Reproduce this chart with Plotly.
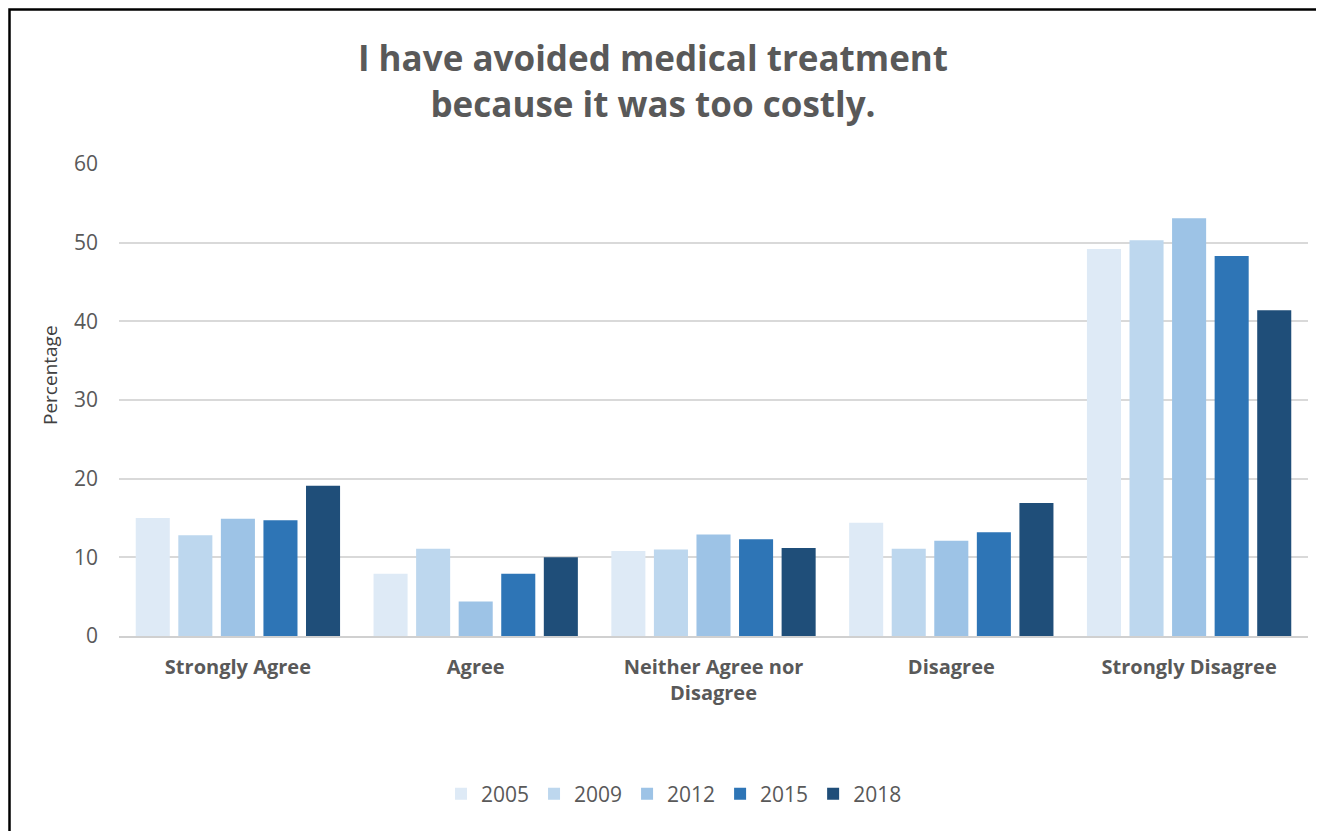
import plotly.graph_objects as go

# Survey answers and yearly percentages
categories = ['Strongly Agree', 'Agree', 'Neither Agree nor<br>Disagree', 'Disagree', 'Strongly Disagree']
years = ['2005', '2009', '2012', '2015', '2018']
pct_2005 = [15.0, 7.9, 10.8, 14.4, 49.2]
pct_2009 = [12.8, 11.1, 11.0, 11.1, 50.3]
pct_2012 = [14.9, 4.4, 12.9, 12.1, 53.1]
pct_2015 = [14.7, 7.9, 12.3, 13.2, 48.3]
pct_2018 = [19.1, 10.0, 11.2, 16.9, 41.4]
colors = ['#DEEAF6', '#BDD7EE', '#9DC3E6', '#2E75B6', '#1F4E79']

# page has an 8px body margin, so the figure is a bit smaller
OFF = 8
W, H = 1324 - OFF, 831 - OFF
L, R, T, B = 111, 16, 156, 195
pw, ph = W - L - R, H - T - B

def px_x(x):
    # page pixel -> paper x
    return (x - OFF - L) / pw

def px_y(y):
    # page pixel -> paper y
    return (H - B - (y - OFF)) / ph

fig = go.Figure()
for year, vals, col in zip(years, [pct_2005, pct_2009, pct_2012, pct_2015, pct_2018], colors):
    fig.add_trace(go.Bar(name=year, x=categories, y=vals, marker_color=col,
                         marker_line_width=0))

fig.update_layout(
    width=W, height=H,
    margin=dict(l=L, r=R, t=T, b=B),
    paper_bgcolor='white', plot_bgcolor='white',
    font=dict(family='Open Sans', color='#595959'),
    barmode='group', bargap=0.105, bargroupgap=0.2,
    title=dict(
        text='<b>I have avoided medical treatment<br>because it was too costly.</b>',
        x=(653 - OFF) / W, xanchor='center',
        y=1 - (71 - OFF) / H, yanchor='middle',
        font=dict(size=35, color='#595959', family='Open Sans'),
    ),
    legend=dict(orientation='h', x=px_x(674), xanchor='center',
                y=px_y(794), yanchor='middle',
                font=dict(size=21, color='#595959'),
                itemwidth=30, traceorder='normal'),
    showlegend=True,
)

# y axis title placed by hand (it sits a little above the plot centre)
fig.add_annotation(text='Percentage', xref='paper', yref='paper',
                   x=px_x(50), y=px_y(375), textangle=-90, showarrow=False,
                   xanchor='center', yanchor='middle',
                   font=dict(size=19, color='#404040'))

fig.update_yaxes(range=[0, 60], dtick=10, showgrid=True, gridcolor='#D9D9D9',
                 gridwidth=1.5, zeroline=False, showline=False,
                 tickfont=dict(size=21, color='#595959'), ticklabelstandoff=20)
fig.update_xaxes(showline=True, linecolor='#D0D0D0', linewidth=2,
                 tickfont=dict(size=20, color='#595959', family='Open Sans'),
                 ticklabelstandoff=12,
                 tickvals=categories,
                 ticktext=['<b>' + c + '</b>' for c in categories])

# outer frame
fig.add_shape(type='rect', xref='paper', yref='paper',
              x0=px_x(9.5), x1=px_x(1322), y0=px_y(860), y1=px_y(9.5),
              line=dict(color='black', width=2.5), fillcolor='rgba(0,0,0,0)')

fig.write_html('out.html')
